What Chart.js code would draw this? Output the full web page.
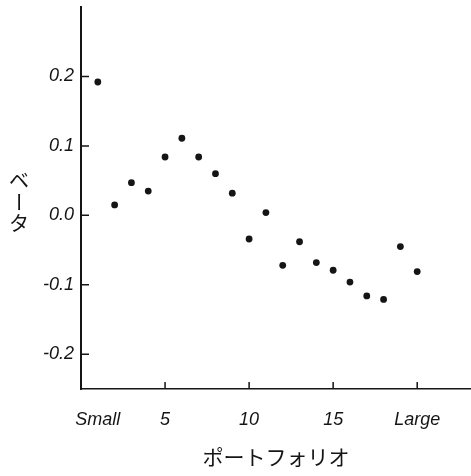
<!DOCTYPE html>
<html>
<head>
<meta charset="utf-8">
<script src="https://cdn.jsdelivr.net/npm/chart.js@4.4.1/dist/chart.umd.min.js"></script>
<style>
  html, body { margin: 0; padding: 0; background: #fff; }
  #wrap { width: 471px; height: 476px; }
</style>
</head>
<body>
<div id="wrap"><canvas id="betaChart" width="471" height="476"></canvas></div>
<script>
// Portfolio number (1 = smallest, 20 = largest) and its beta
const portfolios = [1, 2, 3, 4, 5, 6, 7, 8, 9, 10, 11, 12, 13, 14, 15, 16, 17, 18, 19, 20];
const betas = [0.192, 0.015, 0.047, 0.035, 0.084, 0.111, 0.084, 0.060, 0.032, -0.034,
               0.004, -0.072, -0.038, -0.068, -0.079, -0.096, -0.116, -0.121, -0.045, -0.081];

const xTickValues = [1, 5, 10, 15, 20];
const xTickLabels = ['Small', '5', '10', '15', 'Large'];
const xTickMarks = [5, 10, 15, 20]; // no mark under "Small"
const yTickValues = [-0.2, -0.1, 0, 0.1, 0.2];

const xTitle = 'ポートフォリオ';
const yTitleChars = ['ベ', 'ー', 'タ'];

const ink = '#151515';
const tickFont = { family: '"Liberation Sans", Arial, sans-serif', size: 18, style: 'italic' };
const jpFont = '"Noto Sans CJK JP", sans-serif';

// short tick marks pointing into the plot, plus the stacked vertical y title
const innerTicks = {
  id: 'innerTicks',
  afterDraw(chart) {
    const { ctx, chartArea, scales: { x, y } } = chart;
    ctx.save();
    ctx.strokeStyle = ink;
    ctx.lineWidth = 1.5;
    ctx.beginPath();
    yTickValues.forEach(v => {
      const py = y.getPixelForValue(v);
      ctx.moveTo(chartArea.left, py);
      ctx.lineTo(chartArea.left + 8, py);
    });
    xTickMarks.forEach(v => {
      const px = x.getPixelForValue(v);
      ctx.moveTo(px, chartArea.bottom);
      ctx.lineTo(px, chartArea.bottom - 7);
    });
    ctx.stroke();

    ctx.fillStyle = ink;
    ctx.font = '20px ' + jpFont;
    ctx.textAlign = 'center';
    ctx.textBaseline = 'middle';
    const mid = (chartArea.top + chartArea.bottom) / 2 + 4;
    yTitleChars.forEach((ch, i) => {
      const cy = mid + (i - 1) * 21.5;
      ctx.save();
      ctx.translate(19, cy);
      if (ch === 'ー') ctx.rotate(Math.PI / 2);
      ctx.fillText(ch, 0, 0);
      ctx.restore();
    });
    ctx.restore();
  }
};

new Chart(document.getElementById('betaChart'), {
  type: 'scatter',
  data: {
    datasets: [{
      data: portfolios.map((p, i) => ({ x: p, y: betas[i] })),
      backgroundColor: ink,
      borderWidth: 0,
      pointRadius: 3.4
    }]
  },
  options: {
    responsive: false,
    animation: false,
    devicePixelRatio: 1,
    layout: { autoPadding: false, padding: { top: 7, right: 0, left: 0, bottom: 0 } },
    plugins: {
      legend: { display: false },
      tooltip: { enabled: false }
    },
    scales: {
      x: {
        type: 'linear',
        position: 'bottom',
        min: 0,
        max: 23.2,
        grid: { display: false, drawTicks: false },
        border: { display: true, color: ink, width: 1.5 },
        afterBuildTicks: scale => { scale.ticks = xTickValues.map(v => ({ value: v })); },
        afterFit: scale => {
          scale.height = 87;
          scale.paddingLeft = 0;
          scale.paddingRight = 0;
        },
        ticks: {
          autoSkip: false,
          maxRotation: 0,
          padding: 20,
          color: ink,
          font: tickFont,
          callback: (value, index) => xTickLabels[index]
        },
        title: {
          display: true,
          text: xTitle,
          color: ink,
          font: { family: jpFont, size: 21 },
          padding: { top: 0, bottom: 6 }
        }
      },
      y: {
        min: -0.25,
        max: 0.3,
        grid: { display: false, drawTicks: false },
        border: { display: true, color: ink, width: 2 },
        afterBuildTicks: scale => { scale.ticks = yTickValues.map(v => ({ value: v })); },
        afterFit: scale => {
          scale.width = 81;
          scale.paddingTop = 0;
          scale.paddingBottom = 0;
        },
        ticks: {
          padding: 7,
          color: ink,
          font: tickFont,
          callback: value => value.toFixed(1)
        }
      }
    }
  },
  plugins: [innerTicks]
});
</script>
</body>
</html>
